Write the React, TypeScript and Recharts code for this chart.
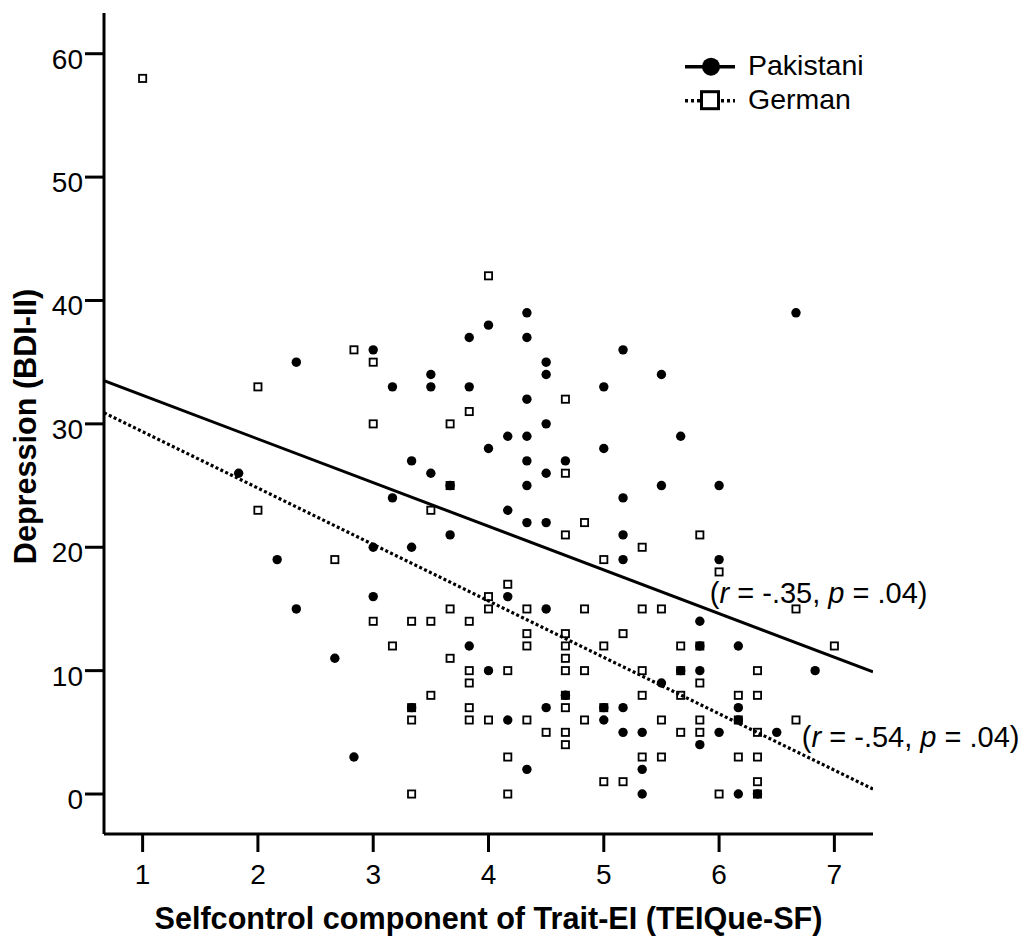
import React from 'react';
import { ScatterChart, Scatter, XAxis, YAxis, Legend, ReferenceDot } from 'recharts';

const FONT = '"Liberation Sans", Arial, Helvetica, sans-serif';

// Categories / series names
const seriesNames = ['Pakistani', 'German'];

// Pakistani participants (Selfcontrol score, BDI-II)
const pakistani = [
  { x: 1.833, y: 26 }, { x: 2.167, y: 19 }, { x: 2.333, y: 35 }, { x: 2.333, y: 15 },
  { x: 2.667, y: 11 }, { x: 2.833, y: 3 }, { x: 3, y: 36 }, { x: 3, y: 20 }, { x: 3, y: 16 },
  { x: 3.167, y: 33 }, { x: 3.167, y: 24 }, { x: 3.333, y: 27 }, { x: 3.333, y: 20 }, { x: 3.333, y: 7 },
  { x: 3.5, y: 34 }, { x: 3.5, y: 33 }, { x: 3.5, y: 26 }, { x: 3.667, y: 25 }, { x: 3.667, y: 21 },
  { x: 3.833, y: 37 }, { x: 3.833, y: 33 }, { x: 3.833, y: 12 }, { x: 4, y: 38 }, { x: 4, y: 28 },
  { x: 4, y: 10 }, { x: 4.167, y: 29 }, { x: 4.167, y: 23 }, { x: 4.167, y: 16 }, { x: 4.167, y: 6 },
  { x: 4.333, y: 39 }, { x: 4.333, y: 37 }, { x: 4.333, y: 32 }, { x: 4.333, y: 29 }, { x: 4.333, y: 27 },
  { x: 4.333, y: 25 }, { x: 4.333, y: 22 }, { x: 4.333, y: 2 }, { x: 4.5, y: 35 }, { x: 4.5, y: 34 },
  { x: 4.5, y: 30 }, { x: 4.5, y: 26 }, { x: 4.5, y: 22 }, { x: 4.5, y: 15 }, { x: 4.5, y: 7 },
  { x: 4.667, y: 27 }, { x: 4.667, y: 8 }, { x: 5, y: 33 }, { x: 5, y: 28 }, { x: 5, y: 7 }, { x: 5, y: 6 },
  { x: 5.167, y: 36 }, { x: 5.167, y: 24 }, { x: 5.167, y: 21 }, { x: 5.167, y: 19 }, { x: 5.167, y: 7 },
  { x: 5.167, y: 5 }, { x: 5.333, y: 5 }, { x: 5.333, y: 2 }, { x: 5.333, y: 0 }, { x: 5.5, y: 34 },
  { x: 5.5, y: 25 }, { x: 5.5, y: 9 }, { x: 5.667, y: 29 }, { x: 5.667, y: 10 }, { x: 5.833, y: 14 },
  { x: 5.833, y: 12 }, { x: 5.833, y: 10 }, { x: 5.833, y: 4 }, { x: 6, y: 25 }, { x: 6, y: 19 },
  { x: 6, y: 5 }, { x: 6.167, y: 12 }, { x: 6.167, y: 7 }, { x: 6.167, y: 6 }, { x: 6.167, y: 0 },
  { x: 6.333, y: 0 }, { x: 6.5, y: 5 }, { x: 6.667, y: 39 }, { x: 6.833, y: 10 },
];

// German participants (Selfcontrol score, BDI-II)
const german = [
  { x: 1, y: 58 }, { x: 2, y: 33 }, { x: 2, y: 23 }, { x: 2.667, y: 19 }, { x: 2.833, y: 36 },
  { x: 3, y: 35 }, { x: 3, y: 30 }, { x: 3, y: 14 }, { x: 3.167, y: 12 }, { x: 3.333, y: 14 },
  { x: 3.333, y: 7 }, { x: 3.333, y: 6 }, { x: 3.333, y: 0 }, { x: 3.5, y: 23 }, { x: 3.5, y: 14 },
  { x: 3.5, y: 8 }, { x: 3.667, y: 30 }, { x: 3.667, y: 25 }, { x: 3.667, y: 15 }, { x: 3.667, y: 11 },
  { x: 3.833, y: 31 }, { x: 3.833, y: 14 }, { x: 3.833, y: 10 }, { x: 3.833, y: 9 }, { x: 3.833, y: 7 },
  { x: 3.833, y: 6 }, { x: 4, y: 42 }, { x: 4, y: 16 }, { x: 4, y: 15 }, { x: 4, y: 6 },
  { x: 4.167, y: 17 }, { x: 4.167, y: 10 }, { x: 4.167, y: 3 }, { x: 4.167, y: 0 }, { x: 4.333, y: 15 },
  { x: 4.333, y: 13 }, { x: 4.333, y: 12 }, { x: 4.333, y: 6 }, { x: 4.5, y: 5 }, { x: 4.667, y: 32 },
  { x: 4.667, y: 26 }, { x: 4.667, y: 21 }, { x: 4.667, y: 13 }, { x: 4.667, y: 12 }, { x: 4.667, y: 11 },
  { x: 4.667, y: 10 }, { x: 4.667, y: 8 }, { x: 4.667, y: 7 }, { x: 4.667, y: 5 }, { x: 4.667, y: 4 },
  { x: 4.833, y: 22 }, { x: 4.833, y: 15 }, { x: 4.833, y: 10 }, { x: 4.833, y: 6 }, { x: 5, y: 19 },
  { x: 5, y: 12 }, { x: 5, y: 7 }, { x: 5, y: 1 }, { x: 5.167, y: 13 }, { x: 5.167, y: 1 },
  { x: 5.333, y: 20 }, { x: 5.333, y: 15 }, { x: 5.333, y: 10 }, { x: 5.333, y: 8 }, { x: 5.333, y: 3 },
  { x: 5.5, y: 15 }, { x: 5.5, y: 6 }, { x: 5.5, y: 3 }, { x: 5.667, y: 12 }, { x: 5.667, y: 10 },
  { x: 5.667, y: 8 }, { x: 5.667, y: 5 }, { x: 5.833, y: 21 }, { x: 5.833, y: 12 }, { x: 5.833, y: 9 },
  { x: 5.833, y: 6 }, { x: 5.833, y: 5 }, { x: 6, y: 18 }, { x: 6, y: 0 }, { x: 6.167, y: 8 },
  { x: 6.167, y: 6 }, { x: 6.167, y: 3 }, { x: 6.333, y: 10 }, { x: 6.333, y: 8 }, { x: 6.333, y: 5 },
  { x: 6.333, y: 3 }, { x: 6.333, y: 1 }, { x: 6.333, y: 0 }, { x: 6.667, y: 15 }, { x: 6.667, y: 6 },
  { x: 7, y: 12 },
];

// Linear fit lines (end points read at the axis limits)
const pakistaniFit = [{ x: 0.665, y: 33.5 }, { x: 7.335, y: 9.9 }];
const germanFit = [{ x: 0.665, y: 30.9 }, { x: 7.335, y: 0.4 }];

// Tick labels
const xTicks = [1, 2, 3, 4, 5, 6, 7];
const yTicks = [0, 10, 20, 30, 40, 50, 60];

// Correlation annotations
const pakistaniStats = { r: '-.35', p: '.04' };
const germanStats = { r: '-.54', p: '.04' };

const pakKey = new Set(pakistani.map((d) => `${d.x}|${d.y}`));

const PakShape = (props: any) => {
  const { cx, cy } = props;
  if (cx == null || cy == null) return <g />;
  return <circle cx={cx} cy={cy} r={4.7} fill="#000" />;
};

const GerShape = (props: any) => {
  const { cx, cy, payload } = props;
  if (cx == null || cy == null) return <g />;
  const both = payload && pakKey.has(`${payload.x}|${payload.y}`);
  const s = 7.2;
  return (
    <rect
      x={cx - s / 2}
      y={cy - s / 2}
      width={s}
      height={s}
      fill={both ? '#000' : '#fff'}
      stroke="#000"
      strokeWidth={1.8}
    />
  );
};

const NoShape = () => <g />;

const YTick = (props: any) => {
  const { x, y, payload } = props;
  return (
    <text x={x} y={y + 15} textAnchor="end" fontSize={28} fontFamily={FONT} fill="#000">
      {payload.value}
    </text>
  );
};

const XTick = (props: any) => {
  const { x, y, payload } = props;
  return (
    <text x={x} y={y + 30} textAnchor="middle" fontSize={28} fontFamily={FONT} fill="#000">
      {payload.value}
    </text>
  );
};

const XLabel = (props: any) => {
  const vb = props.viewBox || { x: 0, y: 0, width: 0, height: 0 };
  return (
    <text
      x={vb.x + vb.width / 2}
      y={vb.y + 95}
      textAnchor="middle"
      fontSize={30.6}
      fontWeight="bold"
      fontFamily={FONT}
      fill="#000"
    >
      Selfcontrol component of Trait-EI (TEIQue-SF)
    </text>
  );
};

const YLabel = (props: any) => {
  const vb = props.viewBox || { x: 0, y: 0, width: 0, height: 0 };
  const cx = vb.x + 36;
  const cy = vb.y + vb.height / 2 + 3;
  return (
    <text
      x={cx}
      y={cy}
      transform={`rotate(-90, ${cx}, ${cy})`}
      textAnchor="middle"
      fontSize={30.6}
      fontWeight="bold"
      fontFamily={FONT}
      fill="#000"
    >
      Depression (BDI-II)
    </text>
  );
};

const statLabel = (stats: { r: string; p: string }) => (props: any) => {
  const vb = props.viewBox || { x: 0, y: 0 };
  return (
    <text x={vb.x} y={vb.y} fontSize={29} fontFamily={FONT} fill="#000">
      <tspan>(</tspan>
      <tspan fontStyle="italic">r</tspan>
      <tspan>{` = ${stats.r}, `}</tspan>
      <tspan fontStyle="italic">p</tspan>
      <tspan>{` = ${stats.p})`}</tspan>
    </text>
  );
};

const LegendContent = () => (
  <svg width={200} height={80} style={{ display: 'block' }}>
    <line x1={5} y1={21.7} x2={55} y2={21.7} stroke="#000" strokeWidth={3.5} />
    <circle cx={31} cy={21.7} r={9} fill="#000" />
    <text x={68} y={29.5} fontSize={28.5} fontFamily={FONT} fill="#000">
      {seriesNames[0]}
    </text>
    <line x1={5} y1={55.7} x2={55} y2={55.7} stroke="#000" strokeWidth={3.5} strokeDasharray="3 3" />
    <rect x={21.5} y={46.7} width={17} height={17} fill="#fff" stroke="#000" strokeWidth={3} />
    <text x={68} y={63.5} fontSize={28.5} fontFamily={FONT} fill="#000">
      {seriesNames[1]}
    </text>
  </svg>
);

export default function App() {
  return (
    <div style={{ position: 'absolute', left: 0, top: 0, background: '#fff' }}>
      <ScatterChart width={1025} height={937} margin={{ top: 13, right: 152, bottom: 0, left: 0 }}>
        <XAxis
          type="number"
          dataKey="x"
          domain={[0.665, 7.335]}
          ticks={xTicks}
          allowDataOverflow
          tickSize={18}
          tickMargin={2}
          height={103}
          axisLine={{ stroke: '#000', strokeWidth: 3 }}
          tickLine={{ stroke: '#000', strokeWidth: 3 }}
          tick={<XTick />}
          label={<XLabel />}
        />
        <YAxis
          type="number"
          dataKey="y"
          domain={[-3.24, 63.3]}
          ticks={yTicks}
          allowDataOverflow
          tickSize={19}
          tickMargin={2}
          width={104}
          axisLine={{ stroke: '#000', strokeWidth: 3 }}
          tickLine={{ stroke: '#000', strokeWidth: 3 }}
          tick={<YTick />}
          label={<YLabel />}
        />
        <Legend
          layout="horizontal"
          align="center"
          verticalAlign="middle"
          content={<LegendContent />}
          wrapperStyle={{ left: 680, top: 45, width: 200, height: 80 }}
        />
        <Scatter name={seriesNames[0]} data={pakistani} shape={<PakShape />} isAnimationActive={false} />
        <Scatter name={seriesNames[1]} data={german} shape={<GerShape />} isAnimationActive={false} />
        <Scatter
          name="Pakistani fit"
          data={pakistaniFit}
          line={{ stroke: '#000', strokeWidth: 3 }}
          shape={<NoShape />}
          legendType="none"
          isAnimationActive={false}
        />
        <Scatter
          name="German fit"
          data={germanFit}
          line={{ stroke: '#000', strokeWidth: 3.2, strokeDasharray: '3 2.4' }}
          shape={<NoShape />}
          legendType="none"
          isAnimationActive={false}
        />
        <ReferenceDot x={5.92} y={15.49} r={0} shape={<NoShape />} label={statLabel(pakistaniStats)} />
        <ReferenceDot x={6.718} y={3.81} r={0} shape={<NoShape />} label={statLabel(germanStats)} />
      </ScatterChart>
    </div>
  );
}
